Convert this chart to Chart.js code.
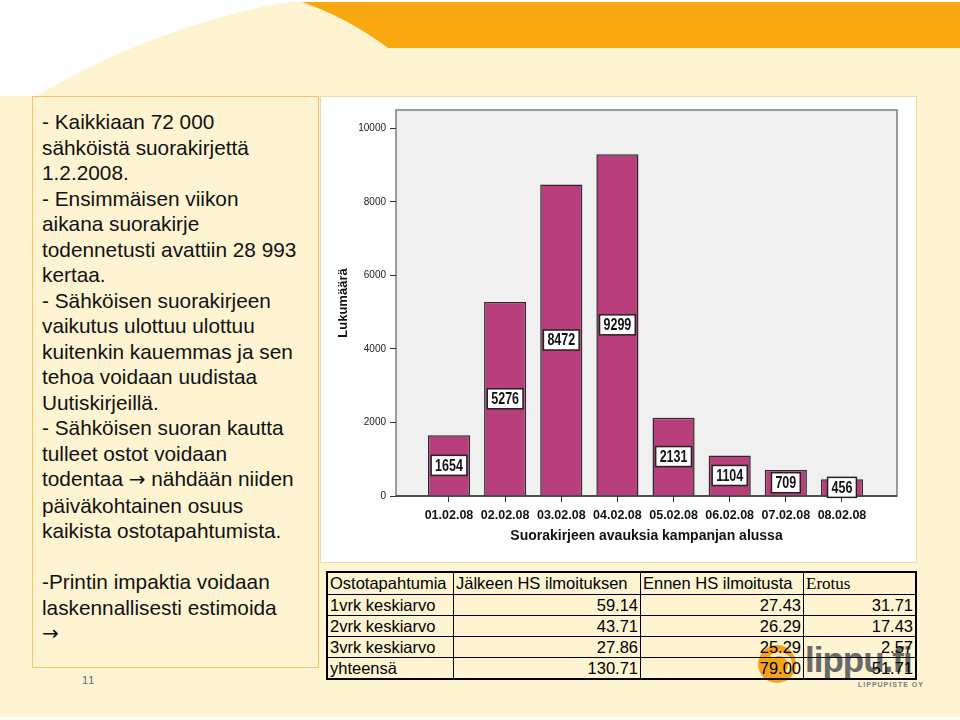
<!DOCTYPE html>
<html><head><meta charset="utf-8">
<script src="https://cdn.jsdelivr.net/npm/chart.js@4.4.1/dist/chart.umd.min.js"></script>
<style>
html,body{margin:0;padding:0;}
body{width:960px;height:720px;position:relative;overflow:hidden;background:#fff;font-family:'Liberation Sans',Arial,sans-serif;}
#slide{position:absolute;left:0;top:0;width:960px;height:717px;background:#FEF4D2;}
#deco{position:absolute;left:0;top:0;}
#leftbox{position:absolute;left:32px;top:96px;width:287px;height:572px;border:1.5px solid #F1C56C;box-sizing:border-box;}
#lefttext{position:absolute;left:42px;top:109px;font-size:20.8px;line-height:25.5px;color:#111;white-space:pre;}
#lefttext .ar{font-family:'DejaVu Sans',sans-serif;font-size:20px;}
#pagenum{position:absolute;left:82px;top:674px;font-size:11px;color:#666;letter-spacing:1px;}
#chartbox{position:absolute;left:320px;top:96px;width:597px;height:467px;background:#fff;border:1px solid #EFD9A6;box-sizing:border-box;}
#c{position:absolute;left:320px;top:96px;}
#ring{position:absolute;left:758px;top:645px;width:38px;height:38px;border-radius:50%;background:#F5A41A;}
#ring2{position:absolute;left:766px;top:652px;width:18px;height:18px;border-radius:50%;border:4px solid #FFE9B8;border-left-color:transparent;border-bottom-color:transparent;}
#lippu{position:absolute;left:805px;top:640px;font-size:35px;font-weight:bold;color:#6a6a6a;letter-spacing:-1px;}
#lippuoy{position:absolute;left:858px;top:681px;font-size:7px;font-weight:bold;color:#7a7a7a;letter-spacing:1px;}
#tbl{position:absolute;left:326px;top:571px;border-collapse:collapse;border:2px solid #000;font-size:16.5px;color:#000;}
#tbl td{border:1.2px solid #000;padding:0 2px;height:20px;line-height:19px;white-space:nowrap;}
#tbl td.n{text-align:right;}
#tbl tr.h td{height:21px;}
#tbl td.serif{font-family:'Liberation Serif','Times New Roman',serif;font-size:17px;}
</style></head>
<body>
<div id="slide"></div>
<svg id="deco" width="960" height="100">
  <path d="M0,0 L305,0 C230,8 120,45 37,96 L0,96 Z" fill="#ffffff"/>
  <path d="M0,0 L960,0 L960,2 L0,2 Z" fill="#ffffff"/>
  <path d="M302,2 Q348,18 388,48 L960,48 L960,2 Z" fill="#F9A80F"/>
</svg>
<div id="leftbox"></div>
<div id="lefttext"></div>
<div id="pagenum">11</div>
<div id="chartbox"></div>
<canvas id="c" width="596" height="466"></canvas>
<div id="ring"></div><div id="ring2"></div>
<div id="lippu">lippu.fi</div>
<div id="lippuoy">LIPPUPISTE OY</div>
<table id="tbl"></table>
<script>
// ---- data ----
const dates = ['01.02.08','02.02.08','03.02.08','04.02.08','05.02.08','06.02.08','07.02.08','08.02.08'];
const opens = [1654, 5276, 8472, 9299, 2131, 1104, 709, 456];
const yTickValues = [0, 2000, 4000, 6000, 8000, 10000];
const yTitle = 'Lukumäärä';
const xTitle = 'Suorakirjeen avauksia kampanjan alussa';

const tableHead = ['Ostotapahtumia', 'Jälkeen HS ilmoituksen', 'Ennen HS ilmoitusta', 'Erotus'];
const rowNames = ['1vrk keskiarvo', '2vrk keskiarvo', '3vrk keskiarvo', 'yhteensä'];
const afterAd = ['59.14', '43.71', '27.86', '130.71'];
const beforeAd = ['27.43', '26.29', '25.29', '79.00'];
const difference = ['31.71', '17.43', '2.57', '51.71'];

const leftLines = [
 '- Kaikkiaan 72 000','sähköistä suorakirjettä','1.2.2008.','- Ensimmäisen viikon','aikana suorakirje',
 'todennetusti avattiin 28 993','kertaa.','- Sähköisen suorakirjeen','vaikutus ulottuu ulottuu',
 'kuitenkin kauemmas ja sen','tehoa voidaan uudistaa','Uutiskirjeillä.','- Sähköisen suoran kautta',
 'tulleet ostot voidaan','todentaa \u2192 nähdään niiden','päiväkohtainen osuus','kaikista ostotapahtumista.',
 '','-Printin impaktia voidaan','laskennallisesti estimoida','\u2192'
];
const lt = document.getElementById('lefttext');
leftLines.forEach((line, i) => {
  line.split('\u2192').forEach((part, j) => {
    if (j > 0) { const s = document.createElement('span'); s.className = 'ar'; s.textContent = '\u2192'; lt.appendChild(s); }
    lt.appendChild(document.createTextNode(part));
  });
  if (i < leftLines.length - 1) lt.appendChild(document.createTextNode('\n'));
});

// ---- table ----
const widths = [126, 187, 163, 112];
const tbl = document.getElementById('tbl');
let html = '<tr class="h">';
tableHead.forEach((h, i) => { html += `<td style="width:${widths[i]-5}px"${i===3?' class="serif"':''}>${h}</td>`; });
html += '</tr>';
rowNames.forEach((r, i) => {
  html += `<tr><td>${r}</td><td class="n">${afterAd[i]}</td><td class="n">${beforeAd[i]}</td><td class="n">${difference[i]}</td></tr>`;
});
tbl.innerHTML = html;

// ---- chart ----
Chart.defaults.font.family = "'Liberation Sans', Arial, sans-serif";

const plotBg = {
  id: 'plotBg',
  beforeDraw(chart) {
    const {ctx, chartArea: a} = chart;
    ctx.save();
    ctx.fillStyle = '#F0F0F0';
    ctx.fillRect(a.left, a.top, a.width, a.height);
    ctx.strokeStyle = '#7d7d7d';
    ctx.lineWidth = 1.5;
    ctx.strokeRect(a.left, a.top, a.width, a.height);
    ctx.restore();
  },
  afterDatasetsDraw(chart) {
    const {ctx, chartArea: a} = chart;
    ctx.save();
    ctx.strokeStyle = '#333';
    ctx.lineWidth = 1.5;
    ctx.beginPath(); ctx.moveTo(a.left, a.bottom); ctx.lineTo(a.right, a.bottom); ctx.stroke();
    const meta = chart.getDatasetMeta(0);
    ctx.font = "bold 16px 'Liberation Sans', Arial, sans-serif";
    ctx.textAlign = 'center';
    ctx.textBaseline = 'middle';
    const sx = 0.78;
    meta.data.forEach((bar, i) => {
      const txt = String(opens[i]);
      const tw = ctx.measureText(txt).width * sx;
      const w = tw + 8, h = 20;
      const cy = (bar.y + bar.base) / 2;
      ctx.fillStyle = '#fff';
      ctx.fillRect(bar.x - w / 2, cy - h / 2, w, h);
      ctx.strokeStyle = '#222';
      ctx.lineWidth = 1.5;
      ctx.strokeRect(bar.x - w / 2, cy - h / 2, w, h);
      ctx.fillStyle = '#111';
      ctx.save();
      ctx.translate(bar.x, cy + 1);
      ctx.scale(sx, 1);
      ctx.fillText(txt, 0, 0);
      ctx.restore();
    });
    ctx.restore();
  }
};

new Chart(document.getElementById('c'), {
  type: 'bar',
  data: {
    datasets: [{
      data: opens.map((v, i) => ({x: i, y: v})),
      backgroundColor: '#B83E7C',
      borderColor: '#2a2a2a',
      borderWidth: 1.5,
      barPercentage: 0.75,
      categoryPercentage: 1.0
    }]
  },
  options: {
    responsive: false,
    animation: false,
    layout: {padding: {left: 0, top: 14, right: 19, bottom: 0}},
    plugins: {legend: {display: false}, tooltip: {enabled: false}},
    scales: {
      x: {
        type: 'linear', min: -0.944, max: 7.98, offset: false,
        afterBuildTicks: s => { s.ticks = dates.map((d, i) => ({value: i})); },
        afterFit: s => { s.height = 66; },
        ticks: {callback: v => dates[v] ?? '', font: {size: 12.5, weight: 'bold'}, color: '#111', padding: 6, maxRotation: 0, autoSkip: false},
        grid: {drawOnChartArea: false, drawTicks: true, tickLength: 6, color: '#333', offset: false},
        border: {display: false},
        title: {display: true, text: xTitle, font: {size: 14, weight: 'bold'}, color: '#111', padding: {top: 0, bottom: 17}}
      },
      y: {
        min: 0, max: 10500,
        afterBuildTicks: s => { s.ticks = yTickValues.map(v => ({value: v})); },
        afterFit: s => { s.width = 76; },
        ticks: {callback: v => String(v), font: {size: 10}, color: '#222', padding: 4},
        grid: {drawOnChartArea: false, drawTicks: true, tickLength: 6, color: '#333'},
        border: {display: false},
        title: {display: true, text: yTitle, font: {size: 13, weight: 'bold'}, color: '#111', padding: {top: 16, bottom: 0}}
      }
    }
  },
  plugins: [plotBg]
});
</script>
</body></html>
